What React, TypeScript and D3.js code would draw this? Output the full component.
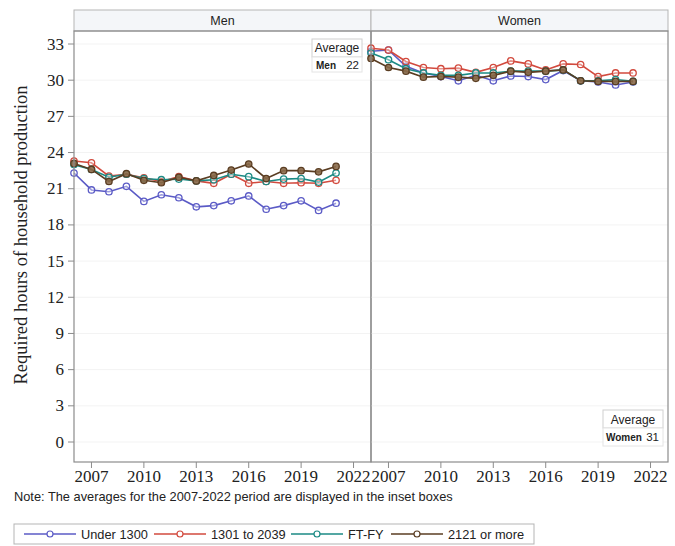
import React from "react";
import * as d3 from "d3";

// Survey years plotted in each panel
const years = [2006, 2007, 2008, 2009, 2010, 2011, 2012, 2013, 2014, 2015, 2016, 2017, 2018, 2019, 2020, 2021];

const seriesNames = ["Under 1300", "1301 to 2039", "FT-FY", "2121 or more"];
const seriesColors = ["#5b5bc6", "#d24a3e", "#1b8a84", "#5a3d22"];

// Men: required hours of household production by income group
const menUnder1300 = [22.3, 20.9, 20.75, 21.2, 19.95, 20.5, 20.25, 19.5, 19.6, 20.0, 20.4, 19.3, 19.6, 20.0, 19.2, 19.8];
const men1301to2039 = [23.3, 23.15, 22.05, 22.2, 21.9, 21.6, 22.0, 21.65, 21.45, 22.2, 21.45, 21.6, 21.45, 21.5, 21.45, 21.7];
const menFTFY = [23.0, 22.6, 21.95, 22.2, 21.85, 21.75, 21.8, 21.65, 21.75, 22.2, 22.0, 21.6, 21.8, 21.85, 21.55, 22.3];
const men2121plus = [23.1, 22.6, 21.6, 22.25, 21.7, 21.5, 21.95, 21.65, 22.1, 22.55, 23.05, 21.85, 22.5, 22.5, 22.4, 22.85];

// Women: required hours of household production by income group
const womenUnder1300 = [32.4, 32.5, 31.15, 30.6, 30.3, 29.95, 30.4, 29.95, 30.35, 30.3, 30.05, 30.8, 29.95, 29.85, 29.6, 29.85];
const women1301to2039 = [32.65, 32.5, 31.55, 31.05, 30.95, 31.0, 30.65, 31.05, 31.6, 31.35, 30.85, 31.35, 31.3, 30.3, 30.6, 30.6];
const womenFTFY = [32.25, 31.7, 30.95, 30.6, 30.4, 30.4, 30.6, 30.6, 30.75, 30.75, 30.75, 30.85, 29.95, 29.95, 30.05, 29.9];
const women2121plus = [31.8, 31.05, 30.75, 30.25, 30.3, 30.25, 30.15, 30.4, 30.75, 30.65, 30.75, 30.85, 29.95, 29.9, 29.9, 29.9];

const yTicks = [0, 3, 6, 9, 12, 15, 18, 21, 24, 27, 30, 33];
const xTicks = [2007, 2010, 2013, 2016, 2019, 2022];

const panelTitles = ["Men", "Women"];
const averageLabels = ["Men", "Women"];
const averageValues = [22, 31];

const W = 675;
const H = 546;
const plotTop = 31;
const plotBottom = 462;
const headerTop = 10;
const panels = [
  { x0: 74, x1: 371 },
  { x0: 371, x1: 668 },
];

const yScale = d3.scaleLinear().domain([0, 33]).range([442, 44]);

const sansFont = "'Liberation Sans', Arial, sans-serif";
const serifFont = "'Liberation Serif', 'Times New Roman', serif";

export default function App() {
  const menData = [menUnder1300, men1301to2039, menFTFY, men2121plus];
  const womenData = [womenUnder1300, women1301to2039, womenFTFY, women2121plus];
  const panelData = [menData, womenData];

  return (
    <svg width={W} height={H} viewBox={`0 0 ${W} ${H}`} style={{ display: "block", position: "absolute", left: 0, top: 0, background: "#fff" }}>
      <rect x={0} y={0} width={W} height={H} fill="#fff" />
      {panels.map((p, pi) => {
        const x = d3.scaleLinear().domain([2006, 2023]).range([p.x0, p.x1]);
        const line = d3
          .line<number>()
          .x((_, i) => x(years[i]))
          .y((d) => yScale(d));
        return (
          <g key={pi}>
            {/* header strip */}
            <rect x={p.x0} y={headerTop} width={p.x1 - p.x0} height={plotTop - headerTop} fill="#f4f6f9" stroke="#b5b5b5" strokeWidth={1} />
            <text x={(p.x0 + p.x1) / 2} y={25} textAnchor="middle" fontFamily={sansFont} fontSize={12.5} fill="#222">
              {panelTitles[pi]}
            </text>
            {/* gridlines */}
            {yTicks.map((t) => (
              <line key={t} x1={p.x0} x2={p.x1} y1={yScale(t)} y2={yScale(t)} stroke="#f3f3f3" strokeWidth={1} />
            ))}
            {/* series */}
            {panelData[pi].map((vals, si) => (
              <g key={si}>
                <path d={line(vals) || ""} fill="none" stroke={seriesColors[si]} strokeWidth={1.6} />
                {vals.map((v, i) => (
                  <circle key={i} cx={x(years[i])} cy={yScale(v)} r={3.2} fill={si === 3 ? "#8a6a4a" : "#fff"} fillOpacity={si === 3 ? 0.9 : 0.4} stroke={seriesColors[si]} strokeWidth={1.3} />
                ))}
              </g>
            ))}
            {/* panel frame */}
            <rect x={p.x0} y={plotTop} width={p.x1 - p.x0} height={plotBottom - plotTop} fill="none" stroke="#8c8c8c" strokeWidth={1.2} />
            {/* x axis ticks and labels */}
            {xTicks.map((t) => (
              <g key={t}>
                <line x1={x(t)} x2={x(t)} y1={plotBottom} y2={plotBottom + 6} stroke="#8c8c8c" strokeWidth={1} />
                <text x={x(t)} y={482} textAnchor="middle" fontFamily={serifFont} fontSize={17} fill="#222">
                  {t}
                </text>
              </g>
            ))}
          </g>
        );
      })}
      {/* y axis */}
      {yTicks.map((t) => (
        <g key={t}>
          <line x1={68} x2={74} y1={yScale(t)} y2={yScale(t)} stroke="#8c8c8c" strokeWidth={1} />
          <text x={64} y={yScale(t) + 5.5} textAnchor="end" fontFamily={serifFont} fontSize={17} fill="#222">
            {t}
          </text>
        </g>
      ))}
      <text transform={`translate(27,235) rotate(-90)`} textAnchor="middle" fontFamily={serifFont} fontSize={18.5} fill="#222">
        Required hours of household production
      </text>

      {/* inset: Men average */}
      <g fontFamily={sansFont} fill="#222">
        <rect x={312} y={39} width={50} height={18} fill="#fff" stroke="#d0d0d0" />
        <text x={337} y={52} textAnchor="middle" fontSize={12}>Average</text>
        <rect x={312} y={57} width={50} height={15} fill="#fff" stroke="#e4e4e4" />
        <text x={316} y={69} fontSize={10} fontWeight="bold">{averageLabels[0]}</text>
        <text x={359} y={69} textAnchor="end" fontSize={11.5}>{averageValues[0]}</text>
      </g>
      {/* inset: Women average */}
      <g fontFamily={sansFont} fill="#222">
        <rect x={603} y={410} width={60} height={18} fill="#fff" stroke="#d0d0d0" />
        <text x={633} y={423.5} textAnchor="middle" fontSize={12}>Average</text>
        <rect x={603} y={428} width={60} height={18} fill="#fff" stroke="#e4e4e4" />
        <text x={606} y={441} fontSize={10} fontWeight="bold">{averageLabels[1]}</text>
        <text x={659} y={441} textAnchor="end" fontSize={11.5}>{averageValues[1]}</text>
      </g>

      {/* note */}
      <text x={14} y={501} fontFamily={sansFont} fontSize={12.8} fill="#222">
        Note: The averages for the 2007-2022 period are displayed in the inset boxes
      </text>

      {/* legend */}
      <rect x={14} y={524} width={520} height={20} fill="#fff" stroke="#b5b5b5" />
      {seriesNames.map((name, i) => {
        const starts = [24, 154, 291, 391];
        const lx = starts[i];
        return (
          <g key={name}>
            <line x1={lx} x2={lx + 52} y1={534} y2={534} stroke={seriesColors[i]} strokeWidth={1.6} />
            <circle cx={lx + 26} cy={534} r={3} fill="#fff" stroke={seriesColors[i]} strokeWidth={1.2} />
            <text x={lx + 57} y={538.5} fontFamily={sansFont} fontSize={12.8} fill="#222">
              {name}
            </text>
          </g>
        );
      })}
    </svg>
  );
}
